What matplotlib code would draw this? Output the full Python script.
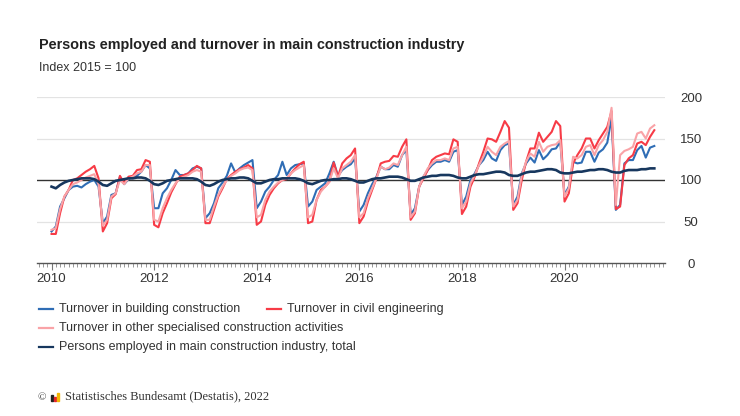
import numpy as np
import matplotlib
matplotlib.use("Agg")
import matplotlib.pyplot as plt
from matplotlib.lines import Line2D
from matplotlib.patches import Rectangle

plt.rcParams['font.family'] = ['Liberation Sans', 'DejaVu Sans']

# monthly values, index 2015 = 100, Jan 2010 - Oct 2021
building = [
    38, 44, 68, 78, 88, 92, 93, 91, 95, 98, 100, 92,          # 2010
    48, 56, 82, 84, 104, 95, 101, 104, 105, 110, 118, 114,    # 2011
    66, 66, 84, 90, 100, 112, 106, 106, 108, 114, 116, 114,   # 2012
    54, 60, 72, 90, 97, 105, 120, 109, 114, 118, 121, 124,    # 2013
    66, 74, 86, 92, 100, 106, 122, 106, 114, 118, 119, 120,   # 2014
    68, 74, 88, 92, 96, 108, 122, 105, 112, 116, 119, 126,    # 2015
    62, 70, 84, 95, 104, 116, 113, 113, 118, 116, 130, 136,   # 2016
    58, 66, 92, 104, 112, 118, 122, 122, 124, 122, 134, 136,  # 2017
    70, 80, 100, 108, 118, 124, 134, 126, 123, 136, 142, 144, # 2018
    70, 80, 108, 120, 127, 121, 136, 125, 130, 137, 138, 146, # 2019
    82, 92, 122, 120, 121, 134, 134, 122, 133, 137, 145, 175, # 2020
    64, 70, 120, 124, 124, 136, 141, 127, 139, 141,           # 2021
]
civil = [
    35, 35, 60, 80, 88, 100, 102, 106, 110, 113, 117, 102,    # 2010
    38, 48, 78, 83, 105, 96, 104, 105, 112, 113, 124, 122,    # 2011
    46, 43, 60, 72, 85, 95, 104, 106, 108, 112, 117, 114,     # 2012
    48, 48, 64, 80, 90, 101, 106, 110, 113, 115, 118, 114,    # 2013
    46, 50, 70, 82, 90, 96, 100, 101, 108, 114, 119, 122,     # 2014
    48, 50, 76, 88, 92, 98, 121, 104, 120, 126, 130, 138,     # 2015
    48, 56, 74, 88, 102, 120, 122, 123, 129, 128, 140, 149,   # 2016
    52, 60, 92, 102, 112, 124, 128, 130, 132, 131, 149, 146,  # 2017
    59, 68, 92, 104, 120, 134, 150, 149, 146, 158, 171, 163,  # 2018
    64, 72, 100, 122, 138, 138, 157, 146, 152, 158, 171, 165, # 2019
    74, 84, 120, 130, 138, 150, 150, 138, 148, 156, 164, 183, # 2020
    65, 68, 118, 126, 130, 144, 146, 142, 152, 160,           # 2021
]
other = [
    40, 42, 65, 80, 88, 95, 97, 100, 103, 105, 107, 95,       # 2010
    45, 52, 80, 84, 100, 95, 102, 104, 108, 110, 118, 118,    # 2011
    52, 50, 66, 78, 88, 96, 102, 104, 106, 110, 112, 110,     # 2012
    52, 52, 68, 82, 92, 100, 105, 108, 112, 114, 115, 112,    # 2013
    55, 58, 76, 86, 92, 97, 100, 102, 108, 112, 115, 118,     # 2014
    55, 58, 76, 86, 92, 98, 114, 102, 114, 118, 122, 130,     # 2015
    55, 60, 78, 90, 102, 116, 113, 115, 120, 118, 130, 140,   # 2016
    55, 62, 92, 104, 114, 120, 124, 124, 126, 124, 138, 140,  # 2017
    66, 74, 96, 106, 118, 128, 140, 134, 130, 140, 144, 147,  # 2018
    68, 76, 106, 122, 132, 128, 146, 134, 140, 142, 143, 148, # 2019
    80, 90, 128, 126, 130, 140, 142, 130, 142, 148, 158, 187, # 2020
    70, 130, 135, 137, 140, 156, 158, 150, 162, 166,          # 2021
]
employed = [
    92, 90, 94, 97, 99, 100, 101, 102, 102, 102, 101, 98,     # 2010
    94, 93, 96, 99, 100, 101, 102, 102, 103, 103, 102, 99,    # 2011
    95, 94, 96, 99, 100, 101, 102, 102, 102, 102, 101, 98,    # 2012
    94, 93, 95, 98, 100, 101, 102, 102, 103, 103, 102, 99,    # 2013
    96, 96, 98, 100, 101, 101, 102, 102, 102, 102, 101, 99,   # 2014
    96, 95, 97, 99, 100, 100, 101, 101, 102, 102, 101, 99,    # 2015
    97, 97, 99, 101, 102, 102, 103, 104, 104, 104, 103, 101,  # 2016
    99, 99, 101, 103, 104, 105, 105, 106, 106, 106, 105, 103, # 2017
    102, 102, 104, 106, 107, 107, 108, 109, 110, 110, 109, 106,  # 2018
    105, 105, 107, 109, 110, 110, 111, 112, 113, 113, 112, 109,  # 2019
    108, 108, 109, 110, 110, 111, 112, 112, 113, 113, 112, 110,  # 2020
    109, 109, 111, 112, 112, 112, 113, 113, 114, 114,            # 2021
]
years = [2010, 2012, 2014, 2016, 2018, 2020]
y_ticks = [0, 50, 100, 150, 200]

labels = [
    "Turnover in building construction",
    "Turnover in civil engineering",
    "Turnover in other specialised construction activities",
    "Persons employed in main construction industry, total",
]
colors = ["#2f6db5", "#f73b46", "#f9a3a7", "#17375e"]

W, H = 740, 416
fig = plt.figure(figsize=(W / 100, H / 100), dpi=100)
ax = fig.add_axes([37 / W, 1 - 263 / H, (665 - 37) / W, (263 - 97) / H])

# grid and reference line
for v in y_ticks[1:]:
    if v == 100:
        ax.axhline(v, color="#333333", lw=1.0, zorder=1)
    else:
        ax.axhline(v, color="#e3e3e3", lw=0.9, zorder=0)

months = np.arange(len(civil))
series = [building, civil, other, employed]
widths = [1.5, 1.5, 1.5, 1.9]
for i, values in enumerate(series):
    ax.plot(months[:len(values)], values, color=colors[i], lw=widths[i],
            solid_joinstyle="round", zorder=2 + i)

ax.set_xlim(-3.4, 143.5)
ax.set_ylim(0, 200)

# axes styling
for s in ["left", "top", "right"]:
    ax.spines[s].set_visible(False)
ax.spines["bottom"].set_color("#555555")
ax.spines["bottom"].set_linewidth(1.0)

ax.set_xticks([(y - 2010) * 12 for y in years])
ax.set_xticklabels([str(y) for y in years])
ax.set_xticks(np.arange(-3, 144), minor=True)
ax.tick_params(axis="x", which="major", length=5, width=0.8, color="#777777",
               labelsize=9.5, labelcolor="#333333", pad=2)
ax.tick_params(axis="x", which="minor", length=3, width=0.6, color="#888888")

ax.yaxis.tick_right()
ax.set_yticks(y_ticks)
ax.tick_params(axis="y", length=0, pad=18.7, labelsize=9.5, labelcolor="#333333")
for lbl in ax.get_yticklabels():
    lbl.set_horizontalalignment("center")

# titles
fig.text(39 / W, 1 - 45 / H, "Persons employed and turnover in main construction industry",
         fontsize=10.4, fontweight="bold", color="#222222", va="center")
fig.text(39 / W, 1 - 68 / H, "Index 2015 = 100", fontsize=9, color="#333333", va="center")

# legend drawn by hand (flow layout)
legend_pos = [(39, 309), (267, 309), (39, 328), (39, 347)]
for (lx, ly), c, t in zip(legend_pos, colors, labels):
    fig.add_artist(Line2D([lx / W, (lx + 14) / W], [1 - ly / H, 1 - ly / H],
                          color=c, lw=1.6))
    fig.text((lx + 20) / W, 1 - ly / H, t, fontsize=9, color="#333333", va="center")

# source line
fig.text(38 / W, 1 - 398 / H, "\u00a9", fontsize=8, family=["Liberation Serif"],
         color="#333333", va="center")
for bx, bh, bc in [(51, 6, "#222222"), (54, 4, "#e3262b"), (57, 8, "#f2b705")]:
    fig.add_artist(Rectangle((bx / W, 1 - 401 / H), 2 / W, bh / H, color=bc,
                             transform=fig.transFigure))
fig.text(65 / W, 1 - 396 / H, "Statistisches Bundesamt (Destatis), 2022", fontsize=9,
         family=["Liberation Serif"], color="#333333", va="center")

fig.savefig("out.png", dpi=100, facecolor="white")
